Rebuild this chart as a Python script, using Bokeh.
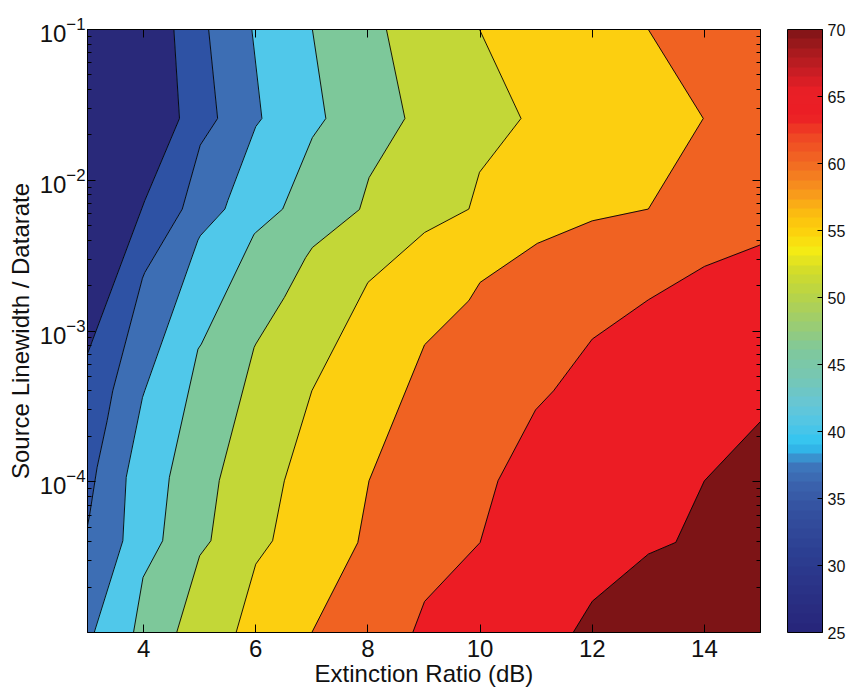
from bokeh.plotting import figure
from bokeh.models import (LinearAxis, LogAxis, FixedTicker, ColorBar,
                          LinearColorMapper, ColumnDataSource,
                          CustomJSTickFormatter)
from bokeh.embed import file_html
from bokeh.resources import INLINE

# Axis extents
X_MIN, X_MAX = 3.0, 15.0
Y_MIN, Y_MAX = 1e-5, 1e-1

# Iso-penalty boundaries: extinction ratio (dB) vs source linewidth / datarate,
# each traced from the top of the domain down to the bottom.
b1_er = [4.54, 4.64, 4.02, 3.0, 3.0]
b1_lw = [1e-1, 2.57e-2, 7.31e-3, 7.06e-4, 1e-5]

b2_er = [5.16, 5.32, 5.01, 4.69, 4.02, 3.98, 3.45, 3.35, 3.17, 3.04, 3.0, 3.0]
b2_lw = [1e-1, 2.57e-2, 1.71e-2, 6.44e-3, 2.44e-3, 2.24e-3, 4.01e-4, 2.54e-4,
         1.24e-4, 6.1e-5, 5.1e-5, 1e-5]

b3_er = [5.93, 6.11, 6.0, 5.5, 5.45, 5.01, 4.97, 4.02, 3.98, 3.69, 3.63, 3.12]
b3_lw = [1e-1, 2.57e-2, 2.27e-2, 7.31e-3, 6.44e-3, 4.28e-3, 4.01e-3, 4.01e-4,
         3.62e-4, 1.07e-4, 4.06e-5, 1e-5]

b4_er = [7.01, 7.25, 7.01, 6.48, 6.0, 5.97, 5.03, 4.97, 4.46, 4.34, 3.99, 3.82]
b4_lw = [1e-1, 2.57e-2, 1.92e-2, 6.44e-3, 4.5e-3, 4.39e-3, 8.19e-4, 7.58e-4,
         1.07e-4, 4.06e-5, 2.32e-5, 1e-5]

b5_er = [8.33, 8.66, 8.02, 7.85, 7.01, 6.89, 6.51, 6.0, 5.97, 5.35, 5.2, 5.0, 4.59]
b5_lw = [1e-1, 2.57e-2, 1.04e-2, 6.4e-3, 3.58e-3, 3.07e-3, 1.67e-3, 8.19e-4,
         7.77e-4, 1.02e-4, 4.06e-5, 3.23e-5, 1e-5]

b6_er = [9.99, 10.73, 9.99, 9.8, 9.01, 8.0, 7.0, 6.51, 6.3, 6.0, 5.65]
b6_lw = [1e-1, 2.57e-2, 1.13e-2, 6.44e-3, 4.5e-3, 2.1e-3, 4.01e-4, 1.015e-4,
         4.06e-5, 2.84e-5, 1e-5]

b7_er = [13.0, 13.98, 13.0, 12.0, 11.02, 10.0, 9.8, 9.01, 8.02, 7.82, 7.0]
b7_lw = [1e-1, 2.57e-2, 6.44e-3, 5.38e-3, 3.81e-3, 2.1e-3, 1.59e-3, 8.1e-4,
         1.015e-4, 3.95e-5, 1e-5]

b8_er = [15.0, 15.0, 14.0, 13.0, 12.0, 11.31, 10.99, 10.32, 10.0, 9.01, 8.8]
b8_lw = [1e-1, 3.73e-3, 2.68e-3, 1.61e-3, 8.84e-4, 4.01e-4, 3.0e-4, 1.015e-4,
         3.95e-5, 1.606e-5, 1e-5]

b9_er = [15.0, 15.0, 14.0, 13.49, 13.0, 12.0, 11.66]
b9_lw = [1e-1, 2.51e-4, 1.015e-4, 3.96e-5, 3.31e-5, 1.61e-5, 1e-5]

boundaries_er = [b1_er, b2_er, b3_er, b4_er, b5_er, b6_er, b7_er, b8_er, b9_er]
boundaries_lw = [b1_lw, b2_lw, b3_lw, b4_lw, b5_lw, b6_lw, b7_lw, b8_lw, b9_lw]

# Fill colours of the bands, from the lowest penalty (top left) to the highest
band_colors = ["#29297a", "#2e52a4", "#3d6eb4", "#50c8ea", "#7dc89a",
               "#c3d737", "#fccf10", "#f06222", "#ec1c24", "#7d1416"]

# Colour scale
cbar_low, cbar_high = 25, 70
cbar_ticks = [25, 30, 35, 40, 45, 50, 55, 60, 65, 70]
cmap_anchor_vals = [25, 28, 31, 34, 36, 37.5, 39, 40.5, 42, 44, 46, 48, 50, 52,
                    53.5, 55, 56.5, 58, 60, 62, 63.5, 65.5, 67, 68.5, 70]
cmap_anchor_cols = ["#27257a", "#2a3185", "#2c3f92", "#34509f", "#3a62ad",
                    "#3e78bd", "#2ec4f2", "#4fc6e6", "#66c6d6", "#76c7b4",
                    "#7fc89c", "#9bcc72", "#b6d34a", "#d2dc2a", "#f5eb14",
                    "#fdd00c", "#fbb812", "#f7941d", "#f26a22", "#ef4624",
                    "#ec1e25", "#e81f26", "#c51d24", "#a4191d", "#7d1416"]

x_ticks = [4, 6, 8, 10, 12, 14]
y_ticks = [1e-4, 1e-3, 1e-2, 1e-1]
y_minor = [m * 10.0 ** e for e in (-5, -4, -3, -2) for m in range(2, 10)]


def hex_to_rgb(h):
    return tuple(int(h[i:i + 2], 16) for i in (1, 3, 5))


def sample_cmap(v):
    for i in range(len(cmap_anchor_vals) - 1):
        v0, v1 = cmap_anchor_vals[i], cmap_anchor_vals[i + 1]
        if v0 <= v <= v1:
            t = (v - v0) / (v1 - v0)
            c0 = hex_to_rgb(cmap_anchor_cols[i])
            c1 = hex_to_rgb(cmap_anchor_cols[i + 1])
            r, g, b = (round(a + (b_ - a) * t) for a, b_ in zip(c0, c1))
            return "#%02x%02x%02x" % (r, g, b)
    return cmap_anchor_cols[-1]


n_steps = 64
palette = [sample_cmap(cbar_low + (i + 0.5) * (cbar_high - cbar_low) / n_steps)
           for i in range(n_steps)]

FONT = "Liberation Sans"

p = figure(frame_width=673, frame_height=603,
           x_range=(X_MIN, X_MAX), y_range=(Y_MIN, Y_MAX),
           y_axis_type="log", output_backend="svg", toolbar_location=None,
           min_border_left=87, min_border_top=29, min_border_bottom=60,
           min_border_right=0)
p.grid.visible = False
p.outline_line_color = "black"
p.outline_line_width = 1
p.background_fill_color = "white"
p.border_fill_color = "white"

# Bands between consecutive boundaries (domain edges close the outer bands)
edges_er = [[X_MIN, X_MIN]] + boundaries_er + [[X_MAX, X_MAX]]
edges_lw = [[Y_MAX, Y_MIN]] + boundaries_lw + [[Y_MAX, Y_MIN]]
band_xs, band_ys = [], []
for k in range(len(edges_er) - 1):
    band_xs.append(edges_er[k] + edges_er[k + 1][::-1])
    band_ys.append(edges_lw[k] + edges_lw[k + 1][::-1])
p.patches(xs="xs", ys="ys", fill_color="color", line_color="color", line_width=0.5,
          source=ColumnDataSource(dict(xs=band_xs, ys=band_ys, color=band_colors)))

# Contour lines
p.multi_line(xs=boundaries_er, ys=boundaries_lw, line_color="black", line_width=0.9)

# Bottom / left axes
xa = p.xaxis[0]
xa.ticker = FixedTicker(ticks=x_ticks)
xa.axis_label = "Extinction Ratio (dB)"
ya = p.yaxis[0]
ya.ticker = FixedTicker(ticks=y_ticks, minor_ticks=y_minor)
ya.axis_label = "Source Linewidth / Datarate"

for ax in (xa, ya):
    ax.axis_line_color = "black"
    ax.major_tick_in = 8
    ax.major_tick_out = 0
    ax.minor_tick_in = 4
    ax.minor_tick_out = 0
    ax.major_tick_line_color = "black"
    ax.minor_tick_line_color = "black"
    ax.major_label_text_font = FONT
    ax.major_label_text_font_size = "24px"
    ax.major_label_text_color = "#111111"
    ax.axis_label_text_font = FONT
    ax.axis_label_text_font_size = "24px"
    ax.axis_label_text_font_style = "normal"
    ax.axis_label_text_color = "#111111"
xa.minor_tick_in = 0
xa.major_label_standoff = 7
xa.axis_label_standoff = 0
ya.major_label_standoff = 2
ya.axis_label_standoff = 3

# Box ticks on top and right (no labels)
blank = CustomJSTickFormatter(code="return ''")
top_ax = LinearAxis(ticker=FixedTicker(ticks=x_ticks), formatter=blank,
                    major_tick_in=8, major_tick_out=0, minor_tick_in=0,
                    minor_tick_out=0, major_label_standoff=0,
                    axis_line_color="black", major_tick_line_color="black")
p.add_layout(top_ax, "above")
right_ax = LogAxis(ticker=FixedTicker(ticks=y_ticks, minor_ticks=y_minor),
                   formatter=blank, major_tick_in=8, major_tick_out=0,
                   minor_tick_in=4, minor_tick_out=0, major_label_standoff=0,
                   axis_line_color="black", major_tick_line_color="black",
                   minor_tick_line_color="black")
p.add_layout(right_ax, "right")

# Empty strip that holds the colour bar away from the plot frame
gap_ax = LogAxis(ticker=FixedTicker(ticks=[1e-3]), formatter=blank,
                 major_tick_in=0, major_tick_out=27, minor_tick_in=0,
                 minor_tick_out=0, major_label_standoff=0,
                 axis_line_color=None, major_tick_line_color=None,
                 minor_tick_line_color=None)
p.add_layout(gap_ax, "right")

# Colour bar
mapper = LinearColorMapper(palette=palette, low=cbar_low, high=cbar_high)
cbar = ColorBar(color_mapper=mapper, ticker=FixedTicker(ticks=cbar_ticks),
                width=35, padding=0, margin=0,
                bar_line_color="black", bar_line_width=1,
                major_tick_in=5, major_tick_out=0,
                major_tick_line_color="black",
                major_label_text_font=FONT, major_label_text_font_size="16px",
                major_label_text_color="#111111", label_standoff=5,
                border_line_color=None, background_fill_color="white")
p.add_layout(cbar, "right")

open("out.html", "w").write(file_html(p, INLINE))
